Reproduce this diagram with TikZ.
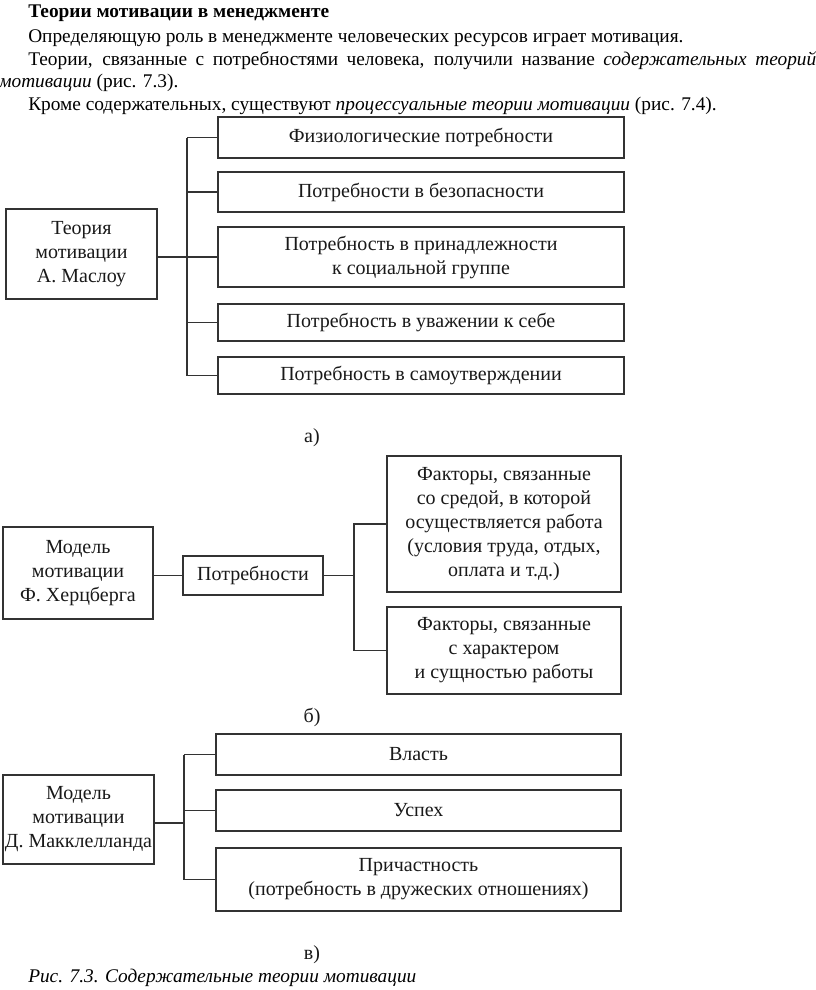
\documentclass[tikz,border=0pt]{standalone}
\usepackage{fontspec}
\setmainfont{Liberation Serif}
\newcommand\bodyfnt{\fontsize{14.5}{17}\selectfont}
\newcommand\diagfnt{\fontsize{15}{18}\selectfont}
% \bx{name}{x1}{y1}{x2}{y2}{text}  (pixel coordinates, y downwards)
\newcommand\bx[6]{\node[box, minimum width={(#4-#2)*0.75pt}, minimum height={(#5-#3)*0.75pt}] (#1) at ({(#2+#4)/2},{(#3+#5)/2}) {#6};}
\begin{document}
\begin{tikzpicture}[x=0.75pt,y=-0.75pt,
  box/.style={draw=black!80, line width=0.9pt, inner sep=0pt, outer sep=0pt, align=center, font=\diagfnt, text=black!90},
  conn/.style={draw=black!80, line width=0.9pt},
  body/.style={inner sep=0pt, font=\bodyfnt},
  lbl/.style={inner sep=0pt, font=\diagfnt, text=black!90}]
\useasboundingbox[fill=white] (0,0) rectangle (816,990);

% top text
\node[body, anchor=base west] (h) at (28,17) {\textbf{Теории мотивации в менеджменте}};
\node[body, anchor=base west] (l1) at (28,42) {Определяющую роль в менеджменте человеческих ресурсов играет мотивация.};
\node[body, anchor=base west] (l2) at (28,65) {\hbox to 591pt{Теории, связанные с потребностями человека, получили название \textit{содержательных теорий}}};
\node[body, anchor=base west] (l3) at (-1,87) {\textit{мотивации} (рис. 7.3).};
\node[body, anchor=base west] (l4) at (28,110) {Кроме содержательных, существуют \textit{процессуальные теории мотивации} (рис. 7.4).};

% a) Maslow
\bx{mas}{6}{209}{157}{299}{Теория\\мотивации\\А. Маслоу}
\bx{a1}{218}{117}{624}{158}{Физиологические потребности}
\bx{a2}{218}{172}{624}{212}{Потребности в безопасности}
\bx{a3}{218}{227}{624}{287}{Потребность в принадлежности\\к социальной группе}
\bx{a4}{218}{304}{624}{341}{Потребность в уважении к себе}
\bx{a5}{218}{357}{624}{394}{Потребность в самоутверждении}
\coordinate (sa) at (187,0);
\draw[conn] (sa |- a1.west) -- (sa |- a5.west);
\foreach \i in {1,2,4,5} \draw[conn] (sa |- a\i.west) -- (a\i.west);
\draw[conn] (mas.east |- a3.west) -- (a3.west);
\node[lbl] (la) at (312,438) {а)};

% b) Herzberg
\bx{her}{3}{527}{153}{619}{Модель\\мотивации\\Ф. Херцберга}
\bx{pot}{183}{556}{323}{595}{Потребности}
\bx{f1}{387}{456}{621}{592}{Факторы, связанные\\со средой, в которой\\осуществляется работа\\(условия труда, отдых,\\оплата и т.д.)}
\bx{f2}{387}{607}{621}{694}{Факторы, связанные\\с характером\\и сущностью работы}
\coordinate (sb) at (354,0);
\draw[conn] (her.east |- pot.west) -- (pot.west);
\draw[conn] (pot.east) -- (sb |- pot.east);
\draw[conn] (f1.west) -- (sb |- f1.west) -- (sb |- f2.west) -- (f2.west);
\node[lbl] (lb) at (312,717) {б)};

% c) McClelland
\bx{mc}{3}{775}{154}{864}{Модель\\мотивации\\Д. Макклелланда}
\bx{c1}{216}{734}{621}{775}{Власть}
\bx{c2}{216}{790}{621}{831}{Успех}
\bx{c3}{216}{848}{621}{911}{Причастность\\(потребность в дружеских отношениях)}
\coordinate (sc) at (184,0);
\coordinate (jc) at (184,823);
\draw[conn] (sc |- c1.west) -- (sc |- c3.west);
\foreach \i in {1,2,3} \draw[conn] (sc |- c\i.west) -- (c\i.west);
\draw[conn] (mc.east |- jc) -- (jc);
\node[lbl] (lc) at (312,955) {в)};

\node[body, anchor=base west] (cap) at (28,982) {\textit{Рис. 7.3. Содержательные теории мотивации}};
\end{tikzpicture}
\end{document}
